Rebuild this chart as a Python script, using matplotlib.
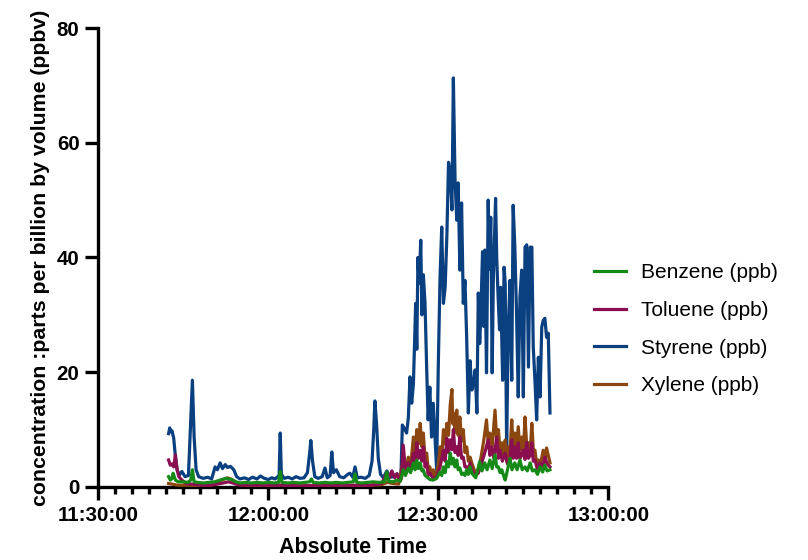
import numpy as np
import matplotlib
matplotlib.use("Agg")
import matplotlib.pyplot as plt
from matplotlib.ticker import MultipleLocator

plt.rcParams['font.family'] = ['Liberation Sans', 'DejaVu Sans']

# time axis in minutes after 11:30:00
tick_pos = [0, 30, 60, 90]
tick_labels = ['11:30:00', '12:00:00', '12:30:00', '13:00:00']

# Styrene (ppb)
t_sty = [12.4, 12.6, 12.8, 13.0, 13.3, 13.6, 13.9, 14.3, 14.75, 15.3, 15.9, 16.3, 16.6, 16.9, 17.25, 17.7,
         18.5, 19.3, 20.0, 20.6, 21.0, 21.5, 21.9, 22.4, 22.8, 23.3, 23.9, 24.4, 25.0, 25.8, 26.5, 27.2,
         28.0, 28.6, 29.3, 30.0, 30.6, 31.2, 31.9, 32.1, 32.3, 32.8, 33.5, 34.2, 34.9, 35.6, 36.3, 36.9,
         37.3, 37.5, 37.8, 38.2, 38.8, 39.5, 40.0, 40.4, 40.9, 41.2, 41.5, 42.0, 42.6, 43.3, 44.0, 44.4,
         44.9, 45.3, 45.7, 46.4, 47.1, 47.8, 48.3, 48.6, 48.8, 49.1, 49.4, 49.8, 50.3, 50.9, 51.5, 52.1,
         52.7, 53.1, 53.4, 53.65, 54.1, 54.4, 54.7, 55.0, 55.3, 55.6, 56.0, 56.2, 56.4, 56.6, 56.9, 57.1,
         57.35, 57.65, 57.95, 58.2, 58.5, 58.8, 59.1, 59.4, 59.7, 60.0, 60.3, 60.6, 60.9, 61.2, 61.5, 61.8,
         62.1, 62.4, 62.65, 62.95, 63.25, 63.5, 63.8, 64.1, 64.4, 64.7, 65.0, 65.3, 65.6, 65.9, 66.2, 66.5,
         66.8, 67.05, 67.3, 67.5, 67.8, 68.0, 68.2, 68.5, 68.8, 69.0, 69.25, 69.5, 69.7, 70.1, 70.3, 70.5,
         70.8, 71.0, 71.35, 71.6, 71.8, 72.05, 72.35, 72.65, 72.95, 73.2, 73.5, 73.8, 74.1, 74.4, 74.7, 75.0,
         75.3, 75.6, 75.9, 76.2, 76.5, 76.75, 77.05, 77.35, 77.65, 77.95, 78.25, 78.5, 78.8, 79.1, 79.4, 79.7]
sty = [9.3, 10.3, 9.6, 9.8, 8.5, 5.3, 3.0, 2.1, 2.7, 1.8, 2.0, 11.7, 18.6, 8.8, 3.0, 1.8,
       1.5, 1.7, 1.4, 3.5, 3.0, 4.2, 3.2, 3.9, 3.4, 3.6, 3.0, 1.8, 1.4, 1.6, 1.3, 1.7,
       1.4, 1.9, 1.5, 1.3, 1.6, 1.4, 2.0, 9.4, 2.2, 1.5, 1.7, 1.4, 1.8, 1.5, 1.6, 2.5,
       6.0, 8.1, 4.5, 1.8, 1.5, 1.8, 3.3, 1.6, 2.0, 6.1, 2.5, 3.0, 1.8, 1.6, 2.2, 2.4,
       1.7, 3.5, 1.6, 1.7, 1.5, 2.0, 4.5, 10.0, 15.0, 11.0, 5.0, 2.2, 1.6, 2.8, 1.7, 1.8,
       2.3, 1.6, 2.0, 10.8, 10.0, 9.4, 12.0, 19.2, 14.6, 18.0, 32.0, 24.0, 40.0, 35.5, 43.0, 30.0,
       37.0, 32.0, 20.4, 11.7, 17.4, 8.7, 14.6, 8.7, 3.0, 21.6, 36.6, 45.3, 32.0, 34.8, 43.6, 56.6,
       54.7, 48.3, 71.3, 53.5, 46.5, 53.0, 37.8, 49.5, 32.0, 36.0, 26.0, 12.9, 22.0, 16.9, 18.0, 20.4,
       12.9, 33.8, 25.0, 30.3, 41.0, 28.0, 41.3, 19.9, 50.0, 38.0, 47.0, 19.9, 36.0, 50.3, 40.0, 34.3,
       27.4, 34.8, 18.6, 38.3, 35.5, 7.0, 27.9, 36.0, 18.6, 49.1, 41.8, 30.3, 15.7, 33.1, 37.8, 15.7,
       41.8, 42.2, 20.9, 41.8, 41.8, 24.4, 18.6, 11.7, 22.6, 15.7, 27.9, 29.0, 29.4, 26.1, 26.8, 12.9]

# Xylene (ppb)
t_xyl = [12.4, 13.0, 14.0, 16.0, 18.0, 20.0, 21.0, 22.0, 22.8, 23.6, 24.4, 26.0, 30.0, 32.0, 36.0, 40.0,
         44.0, 48.0, 50.0, 51.0, 52.0, 53.0, 53.8, 54.2, 54.7, 55.1, 55.6, 55.9, 56.2, 56.5, 56.8, 57.1,
         57.35, 57.65, 57.95, 58.2, 58.5, 58.8, 59.1, 59.4, 59.7, 60.0, 60.3, 60.6, 60.9, 61.2, 61.5, 61.8,
         62.1, 62.4, 62.55, 62.65, 62.95, 63.25, 63.5, 63.8, 64.1, 64.4, 64.7, 65.0, 65.3, 65.6, 65.9, 66.5,
         67.05, 67.5, 68.0, 68.5, 68.8, 69.1, 69.5, 70.0, 70.3, 70.6, 70.9, 71.2, 71.5, 71.8, 72.05, 72.35,
         72.65, 72.95, 73.2, 73.5, 73.8, 74.1, 74.4, 74.7, 75.0, 75.3, 75.6, 75.9, 76.2, 76.5, 76.75, 77.05,
         77.35, 77.65, 78.0, 78.5, 78.8, 79.1, 79.4, 79.7]
xyl = [0.6, 0.5, 0.3, 0.3, 0.2, 0.4, 0.9, 1.3, 1.6, 1.3, 0.6, 0.3, 0.2, 0.3, 0.2, 0.3,
       0.2, 0.3, 0.4, 0.8, 0.6, 0.5, 4.7, 2.5, 5.2, 3.5, 8.7, 6.0, 10.0, 7.5, 11.1, 7.0,
       9.4, 5.0, 5.9, 3.0, 3.5, 2.0, 3.0, 1.8, 2.4, 4.0, 7.0, 5.0, 10.0, 7.5, 11.1, 9.0,
       14.3, 17.0, 11.0, 12.9, 9.5, 13.4, 9.0, 12.2, 8.0, 10.0, 6.0, 7.0, 4.5, 5.2, 4.2, 2.5,
       3.0, 5.0, 8.0, 11.7, 7.5, 9.4, 7.0, 13.4, 8.0, 10.0, 6.0, 7.7, 5.5, 8.2, 4.5, 7.0,
       6.0, 11.7, 7.0, 9.4, 6.5, 10.5, 6.5, 8.7, 6.0, 12.2, 7.0, 7.7, 6.0, 11.1, 6.5, 6.4,
       4.0, 4.7, 3.8, 6.4, 5.0, 6.8, 5.5, 4.2]

# Toluene (ppb)
t_tol = [12.4, 12.7, 13.0, 13.3, 13.6, 13.9, 14.2, 14.75, 15.5, 16.5, 18.0, 20.0, 22.0, 23.0, 24.0, 25.0,
         28.0, 32.0, 36.0, 40.0, 44.0, 48.0, 50.0, 50.9, 51.3, 51.8, 52.3, 52.7, 53.2, 53.5, 53.8, 54.2,
         54.7, 55.1, 55.6, 55.9, 56.2, 56.5, 56.8, 57.1, 57.35, 57.65, 57.95, 58.2, 58.5, 59.1, 59.7, 60.3,
         60.9, 61.2, 61.5, 61.8, 62.1, 62.4, 62.65, 62.95, 63.25, 63.5, 63.8, 64.1, 64.4, 64.7, 65.0, 65.3,
         65.6, 65.9, 66.5, 67.05, 67.6, 68.2, 68.8, 69.1, 69.4, 69.8, 70.3, 70.6, 70.9, 71.3, 71.8, 72.2,
         72.6, 72.95, 73.2, 73.5, 73.8, 74.1, 74.4, 74.7, 75.0, 75.3, 75.6, 75.9, 76.2, 76.5, 76.75, 77.05,
         77.5, 77.95, 78.4, 78.8, 79.2, 79.7]
tol = [4.7, 3.8, 4.0, 3.5, 5.6, 3.0, 1.8, 1.2, 0.6, 0.5, 0.3, 0.3, 0.7, 0.9, 0.6, 0.3,
       0.3, 0.3, 0.2, 0.3, 0.3, 0.3, 0.6, 2.4, 1.5, 2.8, 1.6, 2.3, 1.0, 1.5, 7.3, 3.0,
       4.2, 3.0, 5.9, 4.0, 7.7, 5.0, 6.4, 4.5, 7.0, 3.5, 4.2, 2.0, 2.4, 1.5, 1.8, 3.5,
       6.4, 4.5, 8.5, 6.0, 8.2, 6.5, 10.0, 6.0, 7.0, 5.5, 8.7, 5.0, 5.2, 3.5, 3.5, 3.0,
       4.2, 3.0, 2.0, 2.4, 4.0, 6.0, 8.2, 5.5, 7.0, 5.0, 8.7, 5.0, 6.4, 4.5, 5.9, 4.0,
       5.0, 8.2, 5.0, 7.0, 5.0, 7.7, 5.0, 5.5, 6.4, 4.8, 7.8, 5.0, 5.5, 7.7, 4.5, 4.7,
       3.0, 4.2, 3.5, 5.2, 4.0, 3.5]

# Benzene (ppb)
t_ben = [12.4, 12.7, 13.0, 13.2, 13.6, 14.1, 15.0, 15.8, 16.3, 16.6, 16.9, 17.5, 18.5, 19.5, 20.5, 21.5,
         22.5, 23.5, 24.3, 25.0, 26.0, 27.0, 28.0, 29.0, 30.0, 31.0, 31.8, 32.1, 32.4, 33.5, 34.5, 35.5,
         36.5, 37.3, 37.6, 37.9, 39.0, 40.0, 41.0, 42.0, 43.0, 44.0, 45.0, 45.3, 45.6, 46.5, 47.5, 48.5,
         49.5, 50.5, 50.9, 51.2, 52.0, 52.7, 53.3, 53.8, 54.2, 54.7, 55.1, 55.6, 55.9, 56.2, 56.5, 56.8,
         57.1, 57.35, 57.65, 57.95, 58.5, 59.1, 59.7, 60.3, 60.6, 60.9, 61.2, 61.5, 61.8, 62.1, 62.4, 62.65,
         62.95, 63.25, 63.5, 63.8, 64.1, 64.4, 64.7, 65.0, 65.3, 65.6, 65.9, 66.6, 67.3, 67.7, 68.2, 68.6,
         69.1, 69.5, 70.0, 70.3, 70.6, 70.9, 71.2, 71.5, 71.8, 72.2, 72.65, 73.0, 73.5, 73.9, 74.4, 74.8,
         75.3, 75.7, 76.2, 76.6, 77.05, 77.5, 77.95, 78.4, 78.8, 79.2, 79.7]
ben = [1.8, 1.2, 1.5, 2.4, 1.2, 0.9, 0.9, 0.8, 1.2, 3.0, 0.9, 0.8, 0.7, 0.8, 0.9, 1.2,
       1.5, 1.3, 0.9, 0.7, 0.8, 0.7, 0.8, 0.7, 0.8, 0.7, 0.8, 2.7, 0.8, 0.7, 0.8, 0.7,
       0.8, 0.9, 1.4, 0.8, 0.7, 0.8, 0.7, 0.8, 0.7, 0.8, 0.9, 2.3, 0.8, 0.7, 0.8, 0.9,
       0.8, 0.9, 2.6, 1.0, 0.9, 1.2, 1.0, 3.0, 2.0, 3.3, 2.5, 4.2, 3.0, 4.7, 3.2, 4.2,
       2.8, 3.0, 2.0, 1.8, 1.3, 1.2, 1.5, 2.6, 2.0, 3.5, 2.5, 4.4, 3.5, 5.9, 4.0, 5.0,
       3.5, 4.7, 3.0, 3.3, 2.2, 2.4, 2.0, 3.0, 2.2, 3.5, 2.4, 1.6, 4.4, 2.8, 4.2, 3.0,
       4.7, 3.2, 5.6, 3.5, 3.5, 2.5, 3.0, 2.0, 1.2, 3.0, 5.0, 3.0, 4.2, 3.0, 4.7, 3.0,
       3.5, 2.8, 4.2, 2.8, 3.0, 2.2, 3.5, 2.6, 3.8, 2.8, 3.0]

fig = plt.figure(figsize=(8.08, 5.60), dpi=100)
ax = fig.add_axes([0.1217, 0.1304, 0.6312, 0.8196])

h_sty, = ax.plot(t_sty, sty, color='#0a3f80', lw=2.3, zorder=2)
h_xyl, = ax.plot(t_xyl, xyl, color='#8c4710', lw=2.3, zorder=3)
h_tol, = ax.plot(t_tol, tol, color='#8b0f50', lw=2.3, zorder=4)
h_ben, = ax.plot(t_ben, ben, color='#168a16', lw=2.3, zorder=5)

ax.set_xlim(0, 90)
ax.set_ylim(0, 80)
ax.set_xticks(tick_pos)
ax.set_xticklabels(tick_labels)
ax.xaxis.set_minor_locator(MultipleLocator(3))
ax.set_yticks([0, 20, 40, 60, 80])

for s in ['top', 'right']:
    ax.spines[s].set_visible(False)
for s in ['left', 'bottom']:
    ax.spines[s].set_linewidth(2.4)
    ax.spines[s].set_zorder(1)

ax.tick_params(which='major', length=9.5, width=2.4, labelsize=14.8, pad=4)
ax.tick_params(which='minor', length=5, width=2.4)
for lab in ax.get_xticklabels() + ax.get_yticklabels():
    lab.set_fontweight('bold')

ax.set_xlabel('Absolute Time', fontsize=15.5, fontweight='bold', labelpad=9)
ax.set_ylabel('concentration :parts per billion by volume (ppbv)', fontsize=15.3,
              fontweight='bold', labelpad=5)

fig.legend([h_ben, h_tol, h_sty, h_xyl],
           ['Benzene (ppb)', 'Toluene (ppb)', 'Styrene (ppb)', 'Xylene (ppb)'],
           loc='center left', bbox_to_anchor=(0.735, 0.412), frameon=False,
           fontsize=15, handlelength=1.55, handletextpad=0.7, labelspacing=0.9,
           borderpad=0, borderaxespad=0)

fig.savefig('out.png', dpi=100)
